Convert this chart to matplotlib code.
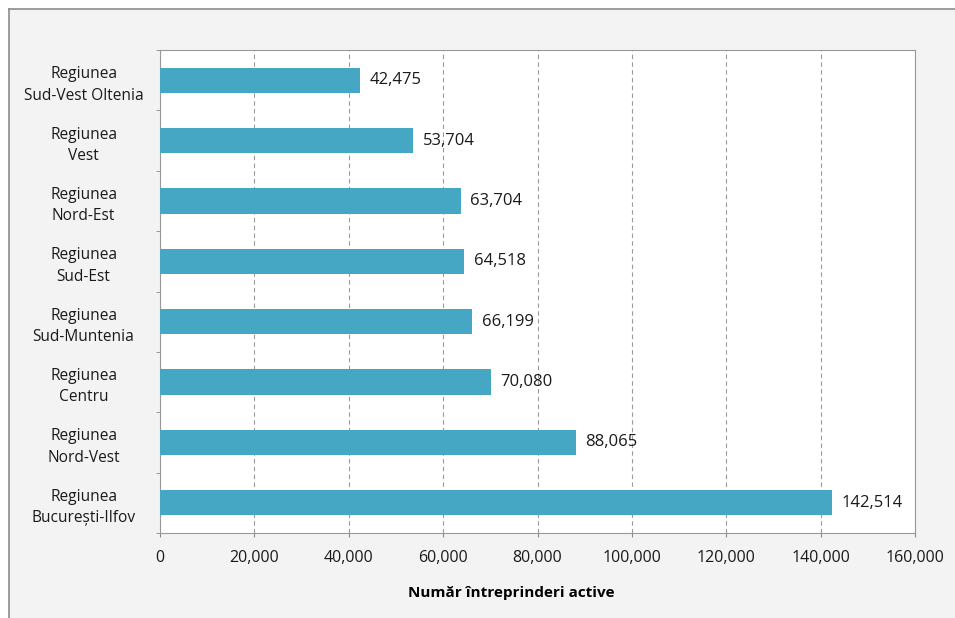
import numpy as np
import matplotlib.pyplot as plt
from matplotlib.lines import Line2D
from matplotlib.patches import Rectangle
from matplotlib.ticker import FuncFormatter

regiuni = ["Regiunea\nSud-Vest Oltenia", "Regiunea\nVest", "Regiunea\nNord-Est", "Regiunea\nSud-Est",
           "Regiunea\nSud-Muntenia", "Regiunea\nCentru", "Regiunea\nNord-Vest", "Regiunea\nBucurești-Ilfov"]
valori = [42475, 53704, 63704, 64518, 66199, 70080, 88065, 142514]
x_ticks = [0, 20000, 40000, 60000, 80000, 100000, 120000, 140000, 160000]

plt.rcParams['font.family'] = ['Open Sans', 'DejaVu Sans']
fig = plt.figure(figsize=(9.55, 6.18), dpi=100, facecolor="white")
# fundal gri deschis + chenar doar sus si stanga
x0 = 9/955; y1 = 1 - 9/618
fig.patches.append(Rectangle((x0, 0), 1 - x0, y1, transform=fig.transFigure,
                             facecolor="#f3f3f3", edgecolor="none", zorder=-10))
fig.lines.append(Line2D([x0, 1], [y1, y1], transform=fig.transFigure, color="#8c8c8c", linewidth=1.2, zorder=-5))
fig.lines.append(Line2D([x0, x0], [0, y1], transform=fig.transFigure, color="#8c8c8c", linewidth=1.2, zorder=-5))

ax = fig.add_axes([160/955, 1 - 533/618, 755/955, 483/618])
ax.set_facecolor("white")

y = np.arange(len(valori))
ax.barh(y, valori, height=0.42, color="#45a7c3", zorder=3)
for yi, v in zip(y, valori):
    ax.text(v + 2000, yi, "{:,}".format(v), va="center", ha="left", fontsize=12, color="#1a1a1a", zorder=4)

ax.set_ylim(len(valori) - 0.5, -0.5)
ax.set_yticks(y)
ax.set_yticklabels(regiuni, fontsize=11.2, color="#1a1a1a", ha="center", linespacing=1.45)
ax.set_yticks(np.arange(-0.5, len(valori), 1), minor=True)
ax.tick_params(axis="y", which="major", length=0, pad=55)
ax.tick_params(axis="y", which="minor", length=3, color="#888888")

ax.set_xlim(0, 160000)
ax.set_xticks(x_ticks)
ax.xaxis.set_major_formatter(FuncFormatter(lambda v, p: "{:,}".format(int(v))))
ax.tick_params(axis="x", labelsize=11.5, labelcolor="#1a1a1a", length=3, color="#888888", pad=9)
ax.grid(axis="x", linestyle=(0, (4, 3)), color="#9a9a9a", linewidth=0.8, zorder=0)
ax.set_xlabel("Număr întreprinderi active", fontsize=11, fontweight="bold", va="center")
ax.xaxis.set_label_coords(0.465, -0.124)

for s in ["top", "right", "left", "bottom"]:
    ax.spines[s].set_color("#999999")

plt.savefig("out.png", dpi=100, facecolor=fig.get_facecolor())
